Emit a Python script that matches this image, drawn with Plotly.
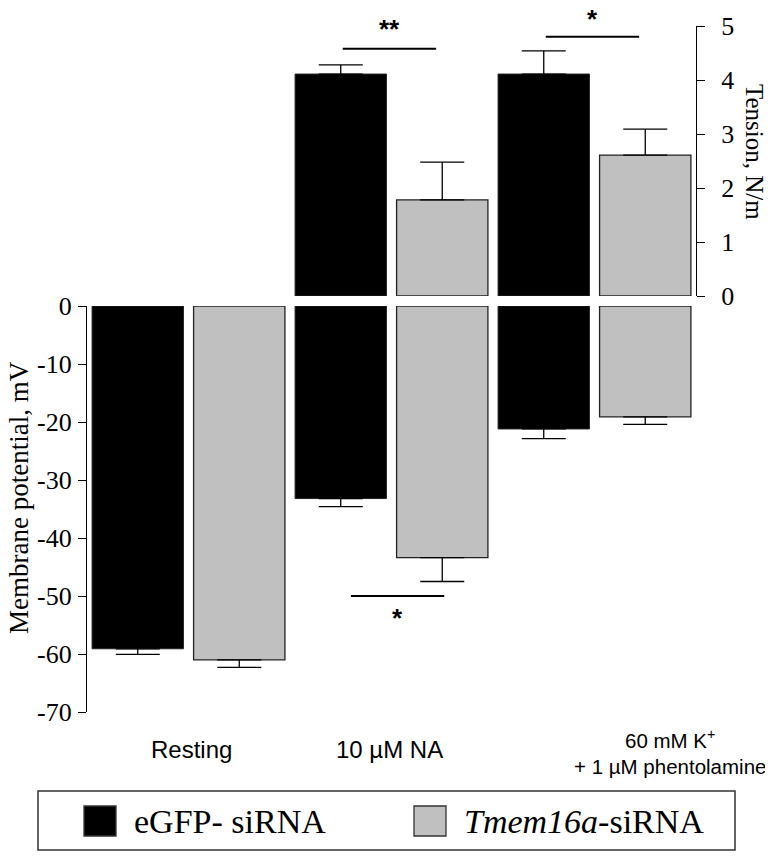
import plotly.graph_objects as go

# ---------------- data ----------------
categories = [0, 1, 2]
category_labels = ["Resting", "10 µM NA", "60 mM K<sup>+</sup><br>+ 1 µM phentolamine"]
series_names = ["eGFP- siRNA", "<i>Tmem16a</i>-siRNA"]
series_colors = ["#000000", "#c0c0c0"]

# Membrane potential (mV), lower panel
mp_egfp = [-59.1, -33.2, -21.2]
mp_egfp_err = [0.95, 1.4, 1.65]
mp_tmem = [-61.0, -43.4, -19.1]
mp_tmem_err = [1.3, 4.1, 1.3]
mp_ticks = [-70, -60, -50, -40, -30, -20, -10, 0]
mp_tick_labels = ["-70", "-60", "-50", "-40", "-30", "-20", "-10", "0"]

# Tension (N/m), upper panel (only NA and K+)
ten_categories = [1, 2]
ten_egfp = [4.11, 4.11]
ten_egfp_err = [0.17, 0.43]
ten_tmem = [1.78, 2.61]
ten_tmem_err = [0.70, 0.48]
ten_ticks = [0, 1, 2, 3, 4, 5]

# significance marks: (x0, x1, y, label, label shift px, axis)
sig_marks = [
    (0.76, 1.22, 4.58, "**", 20, "y2"),
    (1.76, 2.22, 4.80, "*", 18, "y2"),
    (0.80, 1.26, -50.0, "*", -22, "y"),
]

fig = go.Figure()

err_style = dict(type="data", symmetric=False, color="black", thickness=1.3, width=22)

fig.add_trace(go.Bar(
    x=categories, y=mp_egfp, name=series_names[0],
    marker=dict(color=series_colors[0], line=dict(color="#222", width=1)),
    error_y=dict(array=[0] * 3, arrayminus=mp_egfp_err, **err_style),
    xaxis="x", yaxis="y", showlegend=False))
fig.add_trace(go.Bar(
    x=categories, y=mp_tmem, name=series_names[1],
    marker=dict(color=series_colors[1], line=dict(color="#222", width=1.3)),
    error_y=dict(array=[0] * 3, arrayminus=mp_tmem_err, **err_style),
    xaxis="x", yaxis="y", showlegend=False))
fig.add_trace(go.Bar(
    x=ten_categories, y=ten_egfp, name=series_names[0],
    marker=dict(color=series_colors[0], line=dict(color="#222", width=1)),
    error_y=dict(array=ten_egfp_err, arrayminus=[0] * 2, **err_style),
    xaxis="x2", yaxis="y2", showlegend=False))
fig.add_trace(go.Bar(
    x=ten_categories, y=ten_tmem, name=series_names[1],
    marker=dict(color=series_colors[1], line=dict(color="#222", width=1.3)),
    error_y=dict(array=ten_tmem_err, arrayminus=[0] * 2, **err_style),
    xaxis="x2", yaxis="y2", showlegend=False))

serif = "Liberation Serif, Times New Roman, serif"
sans = "Liberation Sans, Arial, sans-serif"

# page has an 8px body margin: work in window pixels, convert to figure pixels
OFF = 8
W, H = 773 - OFF, 858 - OFF
plot_left, plot_right, plot_top, plot_bottom = 87, 696, 26, 712  # window px
ml, mr = plot_left - OFF, (W + OFF) - plot_right
mt, mb = plot_top - OFF, (H + OFF) - plot_bottom
pw, ph = W - ml - mr, H - mt - mb


def py2p(py):
    return (plot_bottom - py) / ph


def px2p(px):
    return (px - plot_left) / pw


fig.update_layout(
    template="none",
    width=W, height=H,
    margin=dict(l=ml, r=mr, t=mt, b=mb, autoexpand=False),
    paper_bgcolor="white", plot_bgcolor="white",
    barmode="group", bargap=0.0, bargroupgap=0.1,
    xaxis=dict(range=[-0.5, 2.5], domain=[0, 1], anchor="y", automargin=False,
               showline=False, showticklabels=False, ticks="", showgrid=False, zeroline=False),
    xaxis2=dict(matches="x", anchor="y2", domain=[0, 1], visible=False),
    yaxis=dict(domain=[0, py2p(306)], range=[-70, 0], automargin=False,
               tickmode="array", tickvals=mp_ticks, ticktext=mp_tick_labels,
               showline=True, linecolor="black", linewidth=1.3,
               ticks="outside", ticklen=8, tickwidth=1.3, tickcolor="black",
               showgrid=False, zeroline=False, ticklabelstandoff=1,
               tickfont=dict(family=serif, size=26, color="black")),
    yaxis2=dict(domain=[py2p(296), 1], range=[0, 5], automargin=False,
                tickmode="array", tickvals=ten_ticks,
                anchor="x2", side="right",
                showline=True, linecolor="black", linewidth=1.3,
                ticks="outside", ticklen=8, tickwidth=1.3, tickcolor="black",
                showgrid=False, zeroline=False, ticklabelstandoff=11,
                tickfont=dict(family=serif, size=26, color="black")),
)

# axis titles
fig.add_annotation(xref="paper", yref="paper", x=px2p(19), y=py2p(498),
                   xanchor="center", yanchor="middle",
                   text="Membrane potential, mV", textangle=-90, showarrow=False,
                   font=dict(family=serif, size=27, color="black"))
fig.add_annotation(xref="paper", yref="paper", x=px2p(755), y=py2p(152),
                   xanchor="center", yanchor="middle",
                   text="Tension, N/m", textangle=90, showarrow=False,
                   font=dict(family=serif, size=25, color="black"))

# category labels
label_pos = [(0, 3, 749, 24), (1, -2, 749, 24), (2, 75, 752, 20.5)]
for (cat, xs, py, fs), lab in zip(label_pos, category_labels):
    fig.add_annotation(xref="x", yref="paper", x=cat, xshift=xs, y=py2p(py),
                       xanchor="center", yanchor="middle",
                       text=lab, showarrow=False, align="center",
                       font=dict(family=sans, size=fs, color="black"))

# significance lines and stars
for x0, x1, y, lab, shift, ax in sig_marks:
    fig.add_shape(type="line", xref="x", yref=ax, x0=x0, x1=x1, y0=y, y1=y,
                  line=dict(color="black", width=2))
    fig.add_annotation(xref="x", yref=ax, x=(x0 + x1) / 2, y=y, yshift=shift,
                       text="<b>" + lab + "</b>", showarrow=False,
                       font=dict(family=sans, size=26, color="black"))

# legend box (manual)
fig.add_shape(type="rect", xref="paper", yref="paper",
              x0=px2p(38), x1=px2p(735), y0=py2p(850), y1=py2p(791),
              line=dict(color="#333", width=1.5), fillcolor="white")
leg_items = [(84, series_colors[0], series_names[0]), (414, series_colors[1], series_names[1])]
for sx, col, name in leg_items:
    fig.add_shape(type="rect", xref="paper", yref="paper",
                  x0=px2p(sx), x1=px2p(sx + 32), y0=py2p(836), y1=py2p(806),
                  line=dict(color="#333", width=1.3), fillcolor=col)
    fig.add_annotation(xref="paper", yref="paper", x=px2p(sx + 48), y=py2p(821),
                       xanchor="left", yanchor="middle", text=name, showarrow=False,
                       font=dict(family=serif, size=34, color="black"))

fig.write_html("out.html")
